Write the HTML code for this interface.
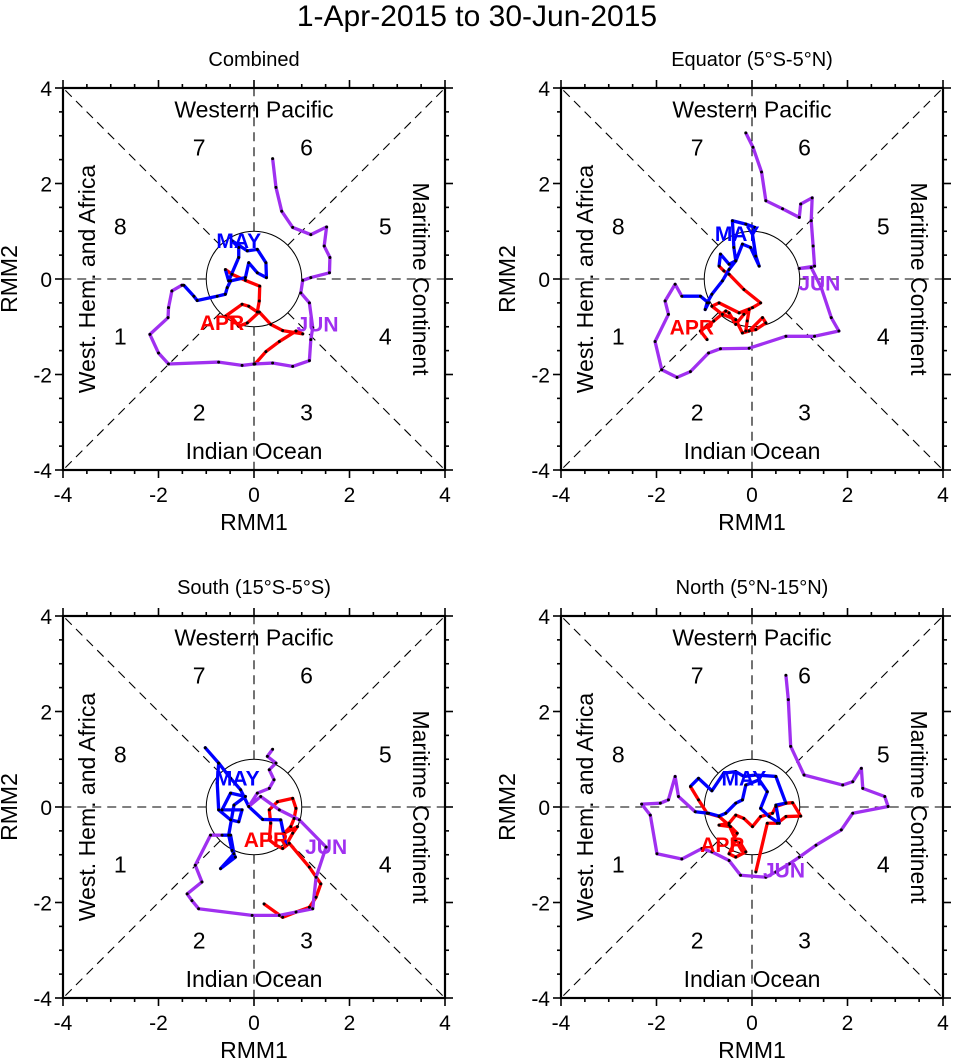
<!DOCTYPE html>
<html><head><meta charset="utf-8"><style>
body{margin:0;background:#fff;}
svg{display:block;font-family:"Liberation Sans",Arial,sans-serif;}
</style></head><body>
<svg id="chart" width="956" height="1060" viewBox="0 0 956 1060">
<text x="477" y="26" text-anchor="middle" font-size="30">1-Apr-2015 to 30-Jun-2015</text>
</svg>
<script>
// ---- data (RMM1, RMM2) ----
const panelTitles = ["Combined","Equator (5°S-5°N)","South (15°S-5°S)","North (5°N-15°N)"];
const tickValues = [-4,-2,0,2,4];
const aprP1x=[0.02,0.25,0.53,0.88,1.02,0.60,0.35,0.11,-0.14,-0.32,-0.46,-0.60,-0.25,-0.11,0.07,0.11,0.12,-0.18,-0.46,-0.60];
const aprP1y=[-1.78,-1.52,-1.31,-1.09,-1.15,-1.08,-0.95,-0.69,-0.92,-0.99,-0.81,-0.78,-0.53,-0.57,-0.69,-0.46,-0.15,-0.03,0.10,0.20];
const mayP1x=[-0.53,-0.32,-0.32,-0.46,-0.14,0.07,0.25,0.26,0.07,-0.11,-0.18,-0.49,-0.56,-0.60,-0.77,-1.19,-1.26,-1.47];
const mayP1y=[-0.04,0.45,0.66,0.80,0.59,0.62,0.34,0.03,0.13,0.34,0.03,-0.04,-0.18,-0.32,-0.36,-0.45,-0.36,-0.13];
const junP1x=[-1.51,-1.72,-1.79,-1.80,-2.18,-2.0,-1.79,-0.74,-0.25,0,0.39,0.81,1.16,1.19,1.23,1.16,0.98,1.02,1.19,1.58,1.59,1.47,1.52,1.19,0.81,0.58,0.46,0.39];
const junP1y=[-0.13,-0.25,-0.60,-0.81,-1.16,-1.55,-1.78,-1.74,-1.81,-1.78,-1.76,-1.83,-1.71,-1.27,-1.02,-0.50,-0.29,-0.03,0.03,0.13,0.45,0.69,1.09,0.93,1.08,1.42,1.92,2.52];

const aprP2x=[-0.94,-1.08,-0.80,-0.55,-0.48,-0.34,-0.17,-0.06,-0.10,-0.13,0.08,0.29,0.22,-0.06,-0.20,-0.34,-0.62,-0.84,-0.69,-0.27,0.01,0.18,-0.17,-0.48,-0.59,-0.69];
const aprP2y=[-1.27,-1.09,-0.88,-0.67,-0.71,-0.95,-0.74,-0.64,-0.88,-1.09,-1.06,-0.92,-0.81,-1.09,-1.13,-0.85,-0.74,-0.57,-0.50,-0.71,-0.60,-0.50,-0.22,0.10,0.17,0.27];
const mayP2x=[-0.66,-0.48,-0.34,-0.38,-0.41,-0.13,0.06,0.01,0.08,0.15,-0.03,-0.20,-0.34,-0.48,-0.62,-0.84,-0.94,-0.98,-0.91,-1.08,-1.47];
const mayP2y=[0.52,0.31,0.38,0.66,1.22,1.15,1.08,0.94,0.48,0.27,0.66,0.73,0.38,0.20,-0.04,-0.32,-0.50,-0.64,-0.50,-0.36,-0.36];
const junP2x=[-1.61,-1.82,-1.75,-2.03,-1.89,-1.57,-1.29,-0.91,-0.66,-0.06,0.71,1.31,1.82,1.66,1.45,1.24,0.99,1.31,1.28,1.24,1.26,1.02,0.99,0.64,0.29,0.20,0.02,-0.13];
const junP2y=[-0.11,-0.46,-0.74,-1.31,-1.90,-2.06,-1.94,-1.55,-1.46,-1.45,-1.20,-1.20,-1.09,-0.81,-0.18,0.24,0.22,0.27,0.69,1.22,1.70,1.57,1.29,1.47,1.64,2.24,2.76,3.06];

const aprP3x=[0.21,0.60,0.88,1.16,1.30,1.40,1.16,0.74,0.60,0.46,0.32,0.35,0.32,0.49,0.81,0.88,0.84,0.77,0.63,0.91,0.81,0.67];
const aprP3y=[-2.03,-2.31,-2.20,-2.10,-1.89,-1.61,-1.26,-0.76,-0.87,-0.80,-0.69,-0.34,-0.06,0.11,0.18,-0.03,-0.24,-0.41,-0.55,-0.41,-0.55,-0.80];
const mayP3x=[0.56,0.18,-0.11,-0.28,-0.49,-0.74,-1.02,-0.74,-0.77,-0.74,-0.49,-0.32,-0.25,-0.67,-0.49,-0.18,-0.42,-0.53,-0.46,-0.39,-0.70,-0.42,-0.49,-0.67];
const mayP3y=[-0.27,-0.26,0.01,0.36,0.60,0.92,1.24,0.92,0.50,-0.06,-0.27,-0.31,-0.06,-0.06,0.29,0.22,0.04,-0.59,-0.91,-1.05,-1.29,-0.98,-0.59,-0.59];
const junP3x=[-0.91,-1.23,-1.09,-1.40,-1.30,-1.16,-0.04,0.53,1.23,1.30,1.51,0.95,0.53,0.14,-0.11,0.07,0.32,0.42,0.32,0.46,0.28,0.39];
const junP3y=[-0.59,-1.22,-1.57,-1.82,-1.96,-2.13,-2.27,-2.27,-2.13,-1.47,-0.84,-0.27,-0.06,0.22,0.01,0.29,0.39,0.57,0.78,0.92,1.06,1.21];

const aprP4x=[0.08,0.32,0.53,0.71,1.02,0.85,0.71,0.50,0.43,0.18,0.01,-0.17,-0.34,-0.48,-0.69,-0.45,-0.31,-0.41,-0.24,-0.13,-0.34,-0.48,-0.34,-0.48,-0.69,-0.94,-1.12,-1.29];
const aprP4y=[-1.36,-0.34,-0.34,-0.20,-0.19,0.09,0.08,0.01,-0.13,-0.20,-0.41,-0.24,-0.17,-0.34,-0.38,-0.41,-0.55,-0.69,-0.76,-0.94,-1.05,-0.98,-0.69,-0.38,-0.20,-0.13,0.15,0.43];
const mayP4x=[-1.12,-0.84,-0.59,-0.34,-0.17,0.08,0.50,0.71,0.50,0.57,0.36,0.18,0.32,0.15,-0.13,-0.20,-0.34,-0.55,-0.69,-0.91,-1.19];
const mayP4y=[0.60,0.34,0.71,0.74,0.64,0.67,0.64,0.08,0.04,-0.34,-0.20,-0.03,0.32,0.57,0.46,0.15,0.08,-0.13,-0.19,-0.13,-0.10];
const junP4x=[-1.54,-1.61,-1.75,-1.92,-2.31,-2.13,-1.99,-1.47,-1.05,-0.84,-0.48,-0.24,0.29,0.50,0.78,0.99,1.34,1.87,2.11,2.85,2.78,2.32,2.29,2.11,1.90,1.09,0.81,0.76,0.71];
const junP4y=[0.22,0.64,0.15,0.08,0.06,-0.17,-0.98,-1.09,-0.87,-0.94,-1.12,-1.43,-1.47,-1.36,-1.19,-1.05,-0.80,-0.48,-0.13,0.01,0.22,0.39,0.81,0.53,0.46,0.67,1.27,2.25,2.76];

// month label positions (RMM units)
const monthLabelX=[[-0.67,-0.32,1.33],[-1.26,-0.31,1.41],[0.25,-0.35,1.51],[-0.62,-0.17,0.67]];
const monthLabelY=[[-0.92,0.80,-0.95],[-1.02,0.94,-0.09],[-0.69,0.60,-0.84],[-0.80,0.60,-1.33]];
const monthNames=["APR","MAY","JUN"];
const monthColors=["#ff0000","#0000ff","#a030f0"];

const NS="http://www.w3.org/2000/svg";
const svg=document.getElementById('chart');
const panels=[{l:63,t:88},{l:561,t:88},{l:63,t:616},{l:561,t:616}];
const W=382, S=W/8;
function mk(tag,attrs,parent){const e=document.createElementNS(NS,tag);for(const k in attrs)e.setAttribute(k,attrs[k]);(parent||svg).appendChild(e);return e;}
const allData=[[[aprP1x,aprP1y],[mayP1x,mayP1y],[junP1x,junP1y]],[[aprP2x,aprP2y],[mayP2x,mayP2y],[junP2x,junP2y]],[[aprP3x,aprP3y],[mayP3x,mayP3y],[junP3x,junP3y]],[[aprP4x,aprP4y],[mayP4x,mayP4y],[junP4x,junP4y]]];

panels.forEach((p,pi)=>{
  const cx=p.l+W/2, cy=p.t+W/2;
  const X=v=>cx+v*S, Y=v=>cy-v*S;
  const g=mk('g',{});
  
  
  const tt=mk('text',{x:cx,y:p.t-22,'text-anchor':'middle','font-size':20},g);tt.textContent=panelTitles[pi];
  
  const dash={stroke:'#000','stroke-width':1.1,'stroke-dasharray':'9,6',fill:'none'};
  const dirs=[[1,0],[-1,0],[0,1],[0,-1],[1,1],[-1,-1],[1,-1],[-1,1]];
  dirs.forEach(d=>{const n=Math.hypot(d[0],d[1]);const a=mk('line',Object.assign({x1:X(d[0]/n),y1:Y(d[1]/n),x2:X(4*d[0]),y2:Y(4*d[1])},dash),g);
    });
  const c=mk('circle',{cx:cx,cy:cy,r:S,fill:'none',stroke:'#000','stroke-width':1},g);
  
  const pn=[[7,-1.15,2.75],[6,1.1,2.75],[8,-2.8,1.1],[5,2.75,1.1],[1,-2.8,-1.2],[4,2.75,-1.2],[2,-1.15,-2.8],[3,1.1,-2.8]];
  pn.forEach(q=>{const t=mk('text',{x:X(q[1]),y:Y(q[2])+8,'text-anchor':'middle','font-size':23},g);t.textContent=q[0];
    });
  const r1=mk('text',{x:cx,y:Y(3.55)+8,'text-anchor':'middle','font-size':23},g);r1.textContent='Western Pacific';
  
  const r2=mk('text',{x:cx,y:Y(-3.6)+8,'text-anchor':'middle','font-size':23},g);r2.textContent='Indian Ocean';
  
  const r3=mk('text',{x:0,y:0,'text-anchor':'middle','font-size':23,transform:`translate(${X(-3.5)+8},${cy}) rotate(-90)`},g);r3.textContent='West. Hem. and Africa';
  
  const r4=mk('text',{x:0,y:0,'text-anchor':'middle','font-size':23,transform:`translate(${X(3.5)-8},${cy}) rotate(90)`},g);r4.textContent='Maritime Continent';
  
  const d=allData[pi]; let prev=null;
  d.forEach((ser,si)=>{
    const xs=ser[0], ys=ser[1]; const pts=[];
    if(prev) pts.push(prev);
    for(let i=0;i<xs.length;i++) pts.push([xs[i],ys[i]]);
    const pl=mk('polyline',{points:pts.map(q=>X(q[0])+','+Y(q[1])).join(' '),fill:'none',stroke:monthColors[si],'stroke-width':3.3,'stroke-linejoin':'round'},g);
    
    
    prev=[xs[xs.length-1],ys[ys.length-1]];
  });
  d.forEach((ser,si)=>{
    for(let i=0;i<ser[0].length;i++){const dt=mk('circle',{cx:X(ser[0][i]),cy:Y(ser[1][i]),r:1.5,fill:'#000'},g);
      }
  });
  for(let m=0;m<3;m++){const t=mk('text',{x:X(monthLabelX[pi][m]),y:Y(monthLabelY[pi][m])+7,'text-anchor':'middle','font-size':21,'font-weight':'bold',fill:monthColors[m]},g);
    t.textContent=monthNames[m];}
  const fr=mk('rect',{x:p.l,y:p.t,width:W,height:W,fill:'none',stroke:'#000','stroke-width':2.2},g);
  
  for(let v=-4;v<=4;v+=0.5){
    const major=Math.abs(v%2)<1e-9, L=major?8:4;
    mk('line',{x1:X(v),y1:p.t+W,x2:X(v),y2:p.t+W+L,stroke:'#000','stroke-width':1.6},g);
    mk('line',{x1:X(v),y1:p.t,x2:X(v),y2:p.t-L,stroke:'#000','stroke-width':1.6},g);
    mk('line',{x1:p.l,y1:Y(v),x2:p.l-L,y2:Y(v),stroke:'#000','stroke-width':1.6},g);
    mk('line',{x1:p.l+W,y1:Y(v),x2:p.l+W+L,y2:Y(v),stroke:'#000','stroke-width':1.6},g);
  }
  tickValues.forEach(v=>{
    const a=mk('text',{x:X(v),y:p.t+W+32,'text-anchor':'middle','font-size':21},g);a.textContent=v;
    
    const b=mk('text',{x:p.l-11,y:Y(v)+8,'text-anchor':'end','font-size':21},g);b.textContent=v;
    
  });
  const xa=mk('text',{x:cx,y:p.t+W+60,'text-anchor':'middle','font-size':23},g);xa.textContent='RMM1';
  
  const ya=mk('text',{x:0,y:0,'text-anchor':'middle','font-size':23,transform:`translate(${p.l-46},${cy}) rotate(-90)`},g);ya.textContent='RMM2';
  
});
</script>
</body></html>
